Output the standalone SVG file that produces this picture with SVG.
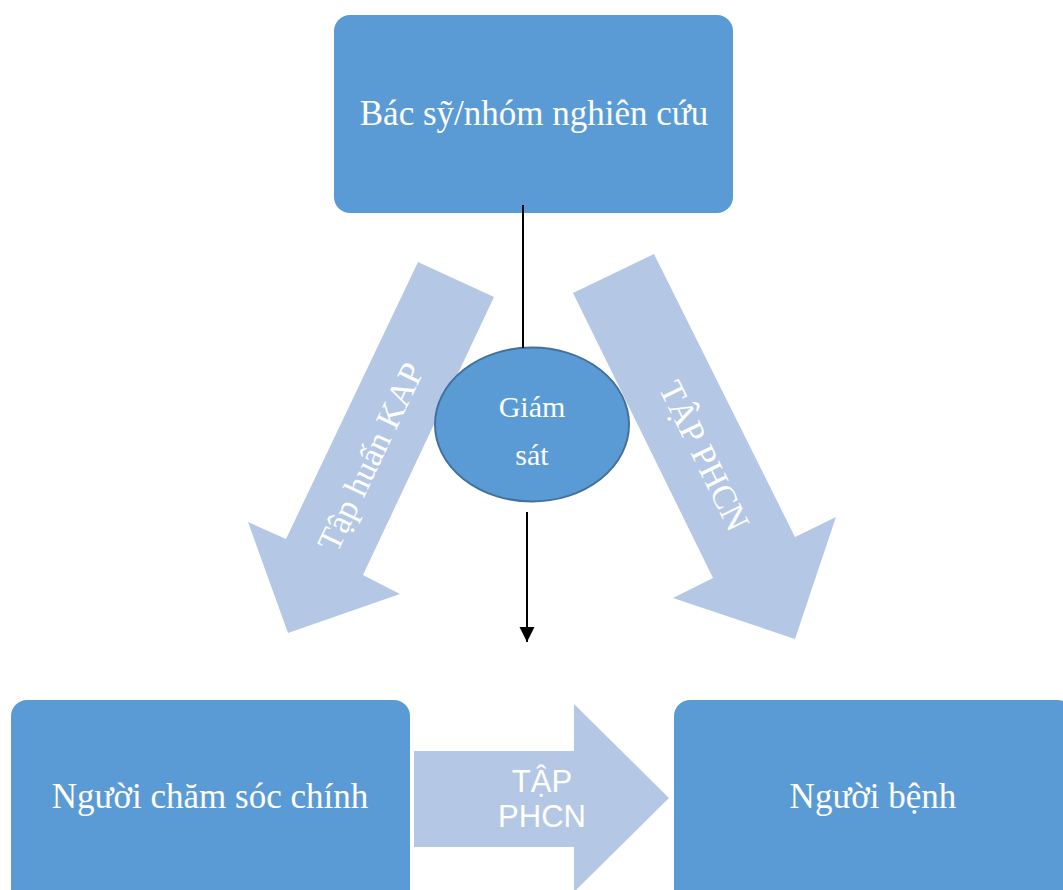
<svg xmlns="http://www.w3.org/2000/svg" width="1063" height="890" viewBox="0 0 1063 890">
<defs>
<style>
.box{fill:#5B9BD5;}
.big{fill:#B4C8E6;}
.t{fill:#FFFFFF;font-family:"Liberation Serif","Times New Roman",serif;}
.s{fill:#FFFFFF;font-family:"Liberation Sans",Arial,sans-serif;}
.ln{stroke:#000;stroke-width:2;fill:none;}
</style>
<marker id="ah" viewBox="0 0 10 10" refX="10" refY="5" markerWidth="15" markerHeight="16" markerUnits="userSpaceOnUse" orient="auto">
<path d="M0,0 L10,5 L0,10 z" fill="#000"/>
</marker>
</defs>
<rect width="1063" height="890" fill="#FFFFFF"/>
<g id="arrow-kap">
<polygon class="big" points="418,262 494,297 363,575 400,594 288,633 248,522 286,539"/>
<text class="t" font-size="34" text-anchor="middle" transform="translate(371,457) rotate(-64.5)" dy="11">Tập huấn KAP</text>
</g>
<g id="arrow-phcn-right">
<polygon class="big" points="573,293 654,254 795,537 836,517 795,639 673,598 713,578"/>
<text class="t" font-size="34" text-anchor="middle" transform="translate(704,456) rotate(63.8)" dy="11">TẬP PHCN</text>
</g>
<g id="arrow-phcn-bottom">
<polygon class="big" points="414,751 574,751 574,704 669,798 574,892 574,847 414,847"/>
<text class="s" font-size="31" text-anchor="middle" x="542" y="792">TẬP</text>
<text class="s" font-size="31" text-anchor="middle" x="542" y="827">PHCN</text>
</g>
<g id="node-bacsy">
<rect class="box" x="334" y="15" width="399" height="198" rx="16"/>
<text class="t" font-size="35" text-anchor="middle" x="534" y="125">Bác sỹ/nhóm nghiên cứu</text>
</g>
<g id="node-giamsat">
<ellipse cx="532" cy="424.5" rx="97" ry="77" fill="#5B9BD5" stroke="#41719C" stroke-width="2"/>
<text class="t" font-size="30" text-anchor="middle" x="532" y="417">Giám</text>
<text class="t" font-size="30" text-anchor="middle" x="532" y="465">sát</text>
</g>
<g id="node-nguoichamsoc">
<rect class="box" x="11" y="700" width="399" height="210" rx="16"/>
<text class="t" font-size="35" text-anchor="middle" x="210" y="808">Người chăm sóc chính</text>
</g>
<g id="node-nguoibenh">
<rect class="box" x="674" y="700" width="399" height="210" rx="16"/>
<text class="t" font-size="35" text-anchor="middle" x="873" y="808">Người bệnh</text>
</g>
<g id="connectors">
<line class="ln" x1="523" y1="205" x2="523" y2="348"/>
<line class="ln" x1="527" y1="512" x2="527" y2="642" marker-end="url(#ah)"/>
</g>
</svg>
